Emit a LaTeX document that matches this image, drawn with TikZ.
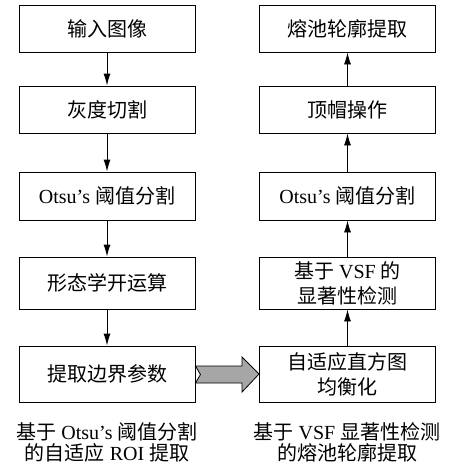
\documentclass[tikz,border=0pt]{standalone}
\usepackage{fontspec}
\setmainfont{Liberation Serif}
\newfontfamily\cjk{Noto Sans CJK SC}
\usetikzlibrary{arrows.meta,calc}
\begin{document}
\begin{tikzpicture}[x=1pt,y=-1pt,
  box/.style={draw, line width=0.9pt, minimum width=176pt, inner sep=0pt, align=center, font=\fontsize{20}{25}\selectfont},
  arr/.style={-{Latex[length=12pt,width=7pt]}, line width=0.9pt},
  captext/.style={align=center, font=\fontsize{20}{21}\selectfont},
  bigarrow/.style={draw, line width=0.8pt, fill=black!35}]
\useasboundingbox (0,0) rectangle (452,474);
% left column
\node[box, minimum height=47pt] (L1) at (107,28.5) {\cjk 输入图像};
\node[box, minimum height=47pt] (L2) at (107,109.5) {\cjk 灰度切割};
\node[box, minimum height=48pt] (L3) at (107,196) {Otsu’s {\cjk 阈值分割}};
\node[box, minimum height=52pt] (L4) at (107,283) {\cjk 形态学开运算};
\node[box, minimum height=56pt] (L5) at (107,374) {\cjk 提取边界参数};
% right column
\node[box, minimum height=47pt] (R1) at (347.5,28.5) {\cjk 熔池轮廓提取};
\node[box, minimum height=47pt] (R2) at (347.5,109.5) {\cjk 顶帽操作};
\node[box, minimum height=48pt] (R3) at (347.5,196) {Otsu’s {\cjk 阈值分割}};
\node[box, minimum height=52pt] (R4) at (347.5,283) {{\cjk 基于} VSF {\cjk 的}\\{\cjk 显著性检测}};
\node[box, minimum height=56pt] (R5) at (347.5,374) {{\cjk 自适应直方图}\\{\cjk 均衡化}};
% connectors
\draw[arr] (L1) -- (L2);
\draw[arr] (L2) -- (L3);
\draw[arr] (L3) -- (L4);
\draw[arr] (L4) -- (L5);
\draw[arr] (R5) -- (R4);
\draw[arr] (R4) -- (R3);
\draw[arr] (R3) -- (R2);
\draw[arr] (R2) -- (R1);
% big arrow
\coordinate (T) at (L5.east);
\coordinate (H) at (R5.west);
\draw[bigarrow] ($(T)+(0,-8)$) -- ($(H)+(-17,-8)$) -- ($(H)+(-17,-17)$) -- (H) -- ($(H)+(-17,18)$) -- ($(H)+(-17,9)$) -- ($(T)+(0,9)$) -- ($(T)+(5,0.5)$) -- cycle;
% captions
\node[captext] (C1) at (107,442) {{\cjk 基于} Otsu’s {\cjk 阈值分割}\\{\cjk 的自适应} ROI {\cjk 提取}};
\node[captext] (C2) at (347,442) {{\cjk 基于} VSF {\cjk 显著性检测}\\{\cjk 的熔池轮廓提取}};
\end{tikzpicture}
\end{document}
